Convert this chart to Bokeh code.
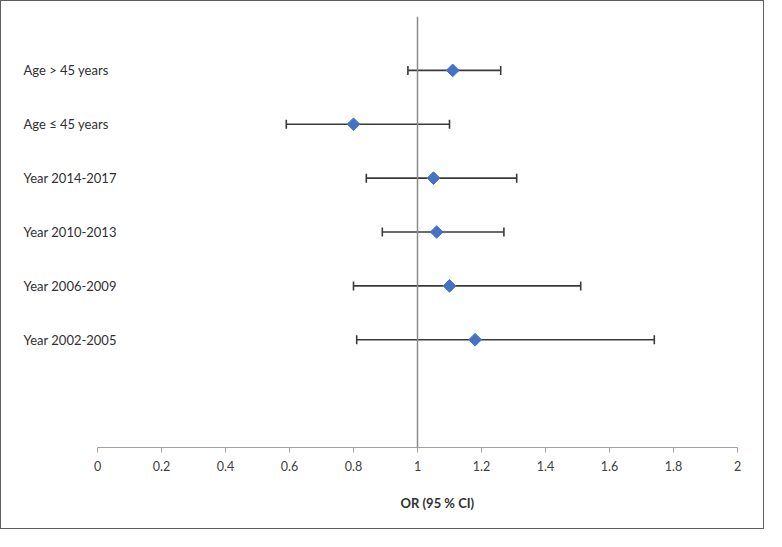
import numpy as np
from bokeh.plotting import figure
from bokeh.models import (Range1d, Span, Whisker, TeeHead, ColumnDataSource,
                          Title, FixedTicker)
from bokeh.core.properties import value
from bokeh.embed import file_html
from bokeh.resources import INLINE

# ---- data ----
labels = ["Age > 45 years", "Age \u2264 45 years", "Year 2014-2017",
          "Year 2010-2013", "Year 2006-2009", "Year 2002-2005"]
odds_ratio = [1.11, 0.80, 1.05, 1.06, 1.10, 1.18]
ci_lower = [0.97, 0.59, 0.84, 0.89, 0.80, 0.81]
ci_upper = [1.26, 1.10, 1.31, 1.27, 1.51, 1.74]
row_pos = [6, 5, 4, 3, 2, 1]
x_ticks = [0, 0.2, 0.4, 0.6, 0.8, 1, 1.2, 1.4, 1.6, 1.8, 2]
x_tick_labels = ["0", "0.2", "0.4", "0.6", "0.8", "1", "1.2", "1.4", "1.6", "1.8", "2"]
reference_or = 1
axis_title = "OR (95 % CI)"

FONT = "Lato"
X_START, X_END = -0.3, 2
Y_START, Y_END = -1, 7

p = figure(width=764, height=529, output_backend="svg", toolbar_location=None,
           x_range=Range1d(X_START, X_END), y_range=Range1d(Y_START, Y_END),
           y_axis_location=None, min_border_left=0, min_border_right=28,
           min_border_top=15, min_border_bottom=83)
p.styles = {"border": "1px solid #5f5f5f"}
p.outline_line_color = None
p.xgrid.visible = False
p.ygrid.visible = False
p.background_fill_color = "white"
p.border_fill_color = "white"

src = ColumnDataSource(dict(y=row_pos, est=odds_ratio, lo=ci_lower, hi=ci_upper, lab=labels))

# reference line at OR = 1
p.add_layout(Span(location=reference_or, dimension="height",
                  line_color="#8a8a8a", line_width=1.5))

# CI whiskers
w = Whisker(source=src, base="y", lower="lo", upper="hi", dimension="width",
            line_color="#3a3a3a", line_width=1.6,
            lower_head=TeeHead(size=9, line_color="#3a3a3a", line_width=1.6),
            upper_head=TeeHead(size=9, line_color="#3a3a3a", line_width=1.6))
w.level = "underlay"
p.add_layout(w)

# point estimates (diamonds)
p.scatter(x="est", y="y", source=src, marker="square", angle=np.pi / 4,
          size=9, fill_color="#4472C4", line_color="#4472C4")

# row labels
p.text(x=X_START, y="y", text="lab", source=src, x_offset=22,
       text_font=value(FONT), text_font_size="13px", text_color="#303030",
       text_baseline="middle", text_align="left")

# x axis
ax = p.xaxis[0]
ax.bounds = (0, 2)
ax.ticker = FixedTicker(ticks=x_ticks)
ax.major_label_overrides = {t: l for t, l in zip(x_ticks, x_tick_labels)}
ax.minor_tick_line_color = None
ax.major_tick_in = 0
ax.major_tick_out = 5
ax.major_tick_line_color = "#a0a0a0"
ax.axis_line_color = "#a0a0a0"
ax.axis_line_width = 1.2
ax.major_label_standoff = 8
ax.major_label_text_font = FONT
ax.major_label_text_font_size = "12.5px"
ax.major_label_text_color = "#404040"

t = Title(text=axis_title, align="left", offset=399, standoff=38,
          text_font=FONT, text_font_size="13px", text_font_style="bold",
          text_color="#303030")
p.add_layout(t, "below")

open("out.html", "w").write(file_html(p, INLINE))
